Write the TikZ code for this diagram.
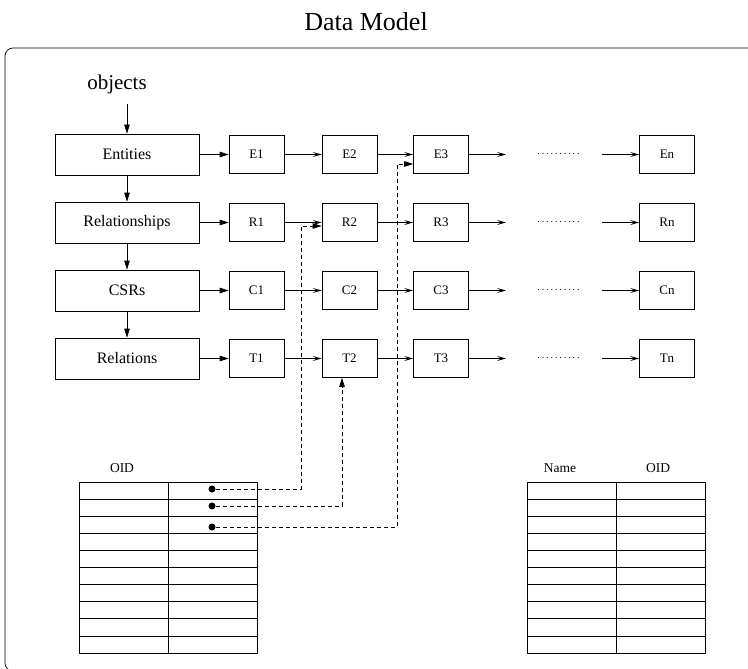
\documentclass[tikz,border=0pt]{standalone}
\usepackage{fontspec}
\setmainfont{Liberation Serif}
\usetikzlibrary{arrows,arrows.meta,positioning}

\begin{document}
\begin{tikzpicture}[->,>={Stealth[length=9pt,width=5.5pt,inset=0pt]},x=1pt,y=-1pt,
	                    line width=0.7pt,node distance=68pt]
	  \tikzstyle{group}=[rectangle,draw=black,minimum width=144pt,minimum height=41pt,
	                     font=\fontsize{16}{19}\selectfont]
	  \tikzstyle{cell}=[rectangle,draw=black,minimum width=55pt,minimum height=38pt,
	                    font=\fontsize{13}{15}\selectfont]
	  \tikzstyle{next}=[-{Stealth[length=9pt,width=5pt,inset=4pt,open]}]
	  \tikzstyle{ref}=[dash pattern=on 4pt off 3pt]
	  \tikzstyle{pin}=[circle,fill=black,inner sep=0pt,minimum size=7pt]
	  \tikzstyle{head}=[font=\fontsize{13.5}{16}\selectfont]

	  \useasboundingbox (0,0) rectangle (748,669);
	  \begin{scope}
	    \clip (0,0) rectangle (748,669);
	    \draw[-,rounded corners=8pt] (5,48) rectangle (756,671);
	  \end{scope}

	  \node[font=\fontsize{26}{30}\selectfont] (title) at (366,22) {Data Model};

	  % chains
	  \node[group] (ent) at (127,154.5)  {Entities};
	  \node[group] (rel) [below of=ent]  {Relationships};
	  \node[group] (csr) [below of=rel]  {CSRs};
	  \node[group] (tab) [below of=csr]  {Relations};
	  \node[font=\fontsize{21}{24}\selectfont] (obj) [above of=ent,node distance=70pt,xshift=-10pt] {objects};

	  \node[cell] (e1) [right of=ent,node distance=129.5pt] {E1};
	  \node[cell] (e2) [right of=e1,node distance=93pt]     {E2};
	  \node[cell] (e3) [right of=e2,node distance=91.5pt]   {E3};
	  \node[cell] (en) [right of=e3,node distance=226pt]    {En};
	  \node[cell] (r1) [right of=rel,node distance=129.5pt] {R1};
	  \node[cell] (r2) [right of=r1,node distance=93pt]     {R2};
	  \node[cell] (r3) [right of=r2,node distance=91.5pt]   {R3};
	  \node[cell] (rn) [right of=r3,node distance=226pt]    {Rn};
	  \node[cell] (c1) [right of=csr,node distance=129.5pt] {C1};
	  \node[cell] (c2) [right of=c1,node distance=93pt]     {C2};
	  \node[cell] (c3) [right of=c2,node distance=91.5pt]   {C3};
	  \node[cell] (cn) [right of=c3,node distance=226pt]    {Cn};
	  \node[cell] (t1) [right of=tab,node distance=129.5pt] {T1};
	  \node[cell] (t2) [right of=t1,node distance=93pt]     {T2};
	  \node[cell] (t3) [right of=t2,node distance=91.5pt]   {T3};
	  \node[cell] (tn) [right of=t3,node distance=226pt]    {Tn};

	  \foreach \r in {e,r,c,t} {
	    \node[coordinate] (\r a) [right of=\r3,node distance=65pt] {};
	    \node[coordinate] (\r b) [left of=\r n,node distance=65pt] {};
	    \node[font=\fontsize{10}{12}\selectfont,inner sep=0pt] (\r dots) [right of=\r3,node distance=117.5pt] {\hbox to 47pt{\dotfill}};
	  }

	  \draw[shorten <=6pt] (ent.north |- obj.south) -- (ent);
	  \path (ent) edge (rel)
	        (rel) edge (csr)
	        (csr) edge (tab)
	        (ent) edge (e1)
	        (rel) edge (r1)
	        (csr) edge (c1)
	        (tab) edge (t1);
	  \path[next] (e1) edge (e2) (e2) edge (e3) (e3) edge (ea) (eb) edge (en)
	              (r1) edge (r2) (r2) edge (r3) (r3) edge (ra) (rb) edge (rn)
	              (c1) edge (c2) (c2) edge (c3) (c3) edge (ca) (cb) edge (cn)
	              (t1) edge (t2) (t2) edge (t3) (t3) edge (ta) (tb) edge (tn);

	  % tables
	  \node[head] (oid) at (122,468) {OID};
	  \node[head] (name) at (560,468) {Name};
	  \node[head] (oid2) at (658,468) {OID};
	  \draw[-] (79,482) rectangle (257,653) (168,482) -- (168,653);
	  \draw[-] (527,482) rectangle (705,653) (616,482) -- (616,653);
	  \foreach \i in {1,...,9} {
	    \draw[-] (79,{482+17.1*\i}) -- (257,{482+17.1*\i});
	    \draw[-] (527,{482+17.1*\i}) -- (705,{482+17.1*\i});
	  }

	  \node[pin] (d1) at (212,489) {};
	  \node[pin] (d2) at (212,506) {};
	  \node[pin] (d3) at (212,527) {};
	  \coordinate (k1) at (301,226);
	  \coordinate (k2) at (342,506);
	  \coordinate (k3) at (397,164);
	  \draw[ref] (d1) -| (k1) -- (k1 -| r2.west);
	  \draw[ref] (d2) -- (k2) -- (k2 |- t2.south);
	  \draw[ref] (d3) -| (k3) -- (k3 -| e3.west);
	\end{tikzpicture}
\end{document}
